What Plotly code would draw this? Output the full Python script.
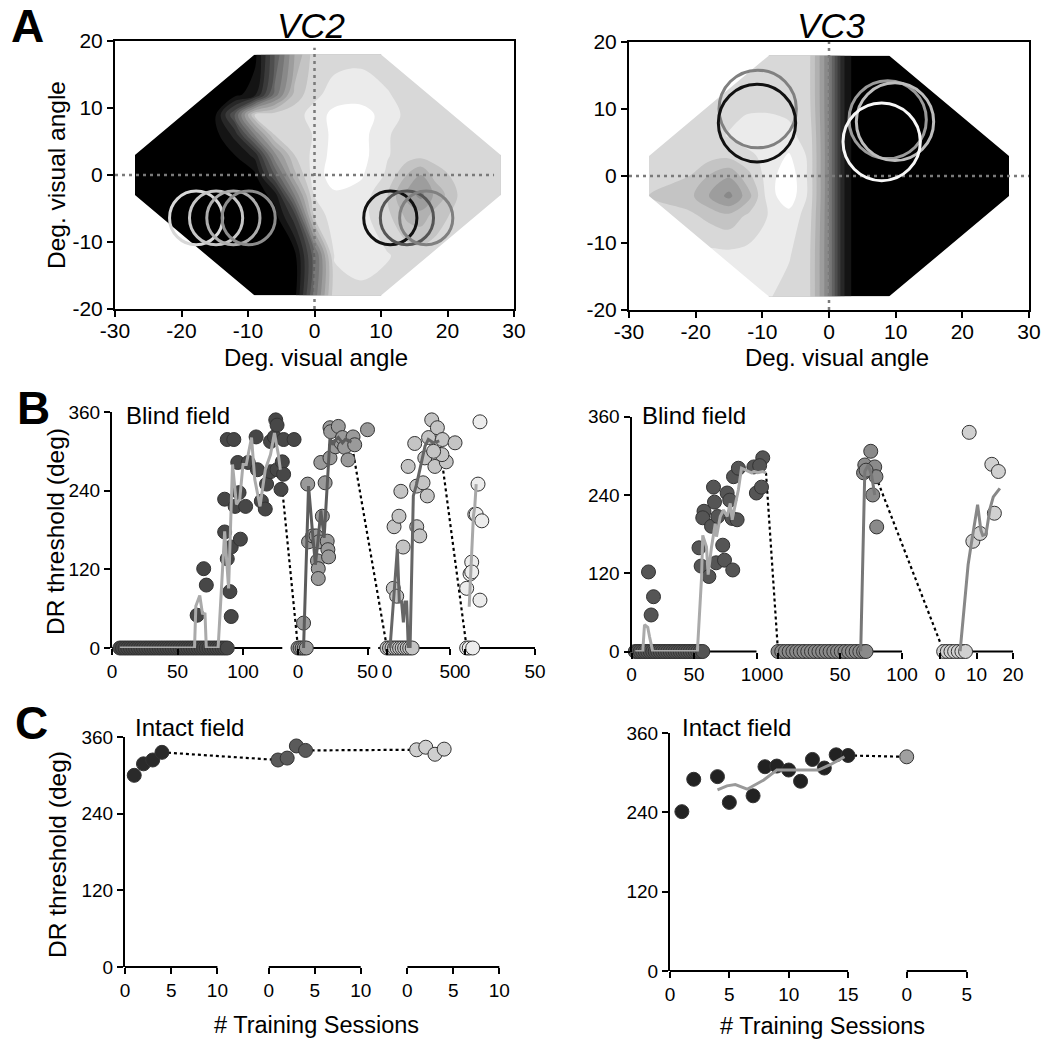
import plotly.graph_objects as go

W, H = 1050, 1049
FONT = "Arial, 'Liberation Sans', sans-serif"


def px(v):
    return v / W


def py(v):
    return 1 - v / H


# ---------------- A: visual field maps (0 = black / blind, 1 = white) ----------------
vc2_gx = [-27, -15, -12, -9, -6, -3, 0, 3, 7, 11, 14, 16, 18, 22, 28]
vc2_gy = [-18, -12, -6, -3, 0, 3, 6, 9, 12, 18]
vc2_z = [
    [0, 0, 0, 0, 0, 0.02, 0.45, 0.85, 0.86, 0.85, 0.84, 0.84, 0.84, 0.83, 0.8],
    [0, 0, 0, 0, 0, 0.02, 0.4, 0.88, 0.9, 0.88, 0.85, 0.84, 0.84, 0.83, 0.8],
    [0, 0, 0, 0, 0.02, 0.25, 0.82, 0.92, 0.9, 0.82, 0.7, 0.68, 0.75, 0.84, 0.8],
    [0, 0, 0, 0, 0.08, 0.5, 0.88, 0.94, 0.92, 0.8, 0.62, 0.55, 0.66, 0.82, 0.8],
    [0, 0, 0, 0.03, 0.35, 0.7, 0.92, 0.98, 0.96, 0.86, 0.72, 0.65, 0.75, 0.84, 0.82],
    [0, 0, 0.05, 0.15, 0.55, 0.8, 0.9, 0.98, 0.98, 0.88, 0.84, 0.83, 0.84, 0.84, 0.8],
    [0, 0.02, 0.15, 0.5, 0.8, 0.84, 0.88, 0.98, 0.98, 0.88, 0.85, 0.84, 0.84, 0.83, 0.8],
    [0, 0.03, 0.35, 0.8, 0.84, 0.85, 0.9, 0.98, 0.98, 0.92, 0.85, 0.84, 0.84, 0.83, 0.8],
    [0, 0, 0.02, 0.1, 0.45, 0.75, 0.86, 0.9, 0.92, 0.88, 0.85, 0.84, 0.84, 0.83, 0.8],
    [0, 0, 0, 0.02, 0.35, 0.65, 0.84, 0.85, 0.85, 0.84, 0.84, 0.84, 0.84, 0.83, 0.8],
]
vc2_edge_x = [-9, 10, 28, 28, 10, -9, -27, -27]
vc2_edge_y = [18, 18, 3, -3, -18, -18, -3, 3]
vc2_cx = [-17.8, -14.8, -12.2, -9.9, 11.4, 13.9, 16.8]
vc2_cy = [-6.4, -6.4, -6.4, -6.4, -6.4, -6.4, -6.4]
vc2_r = 4.0

vc3_gx = [-27, -21, -18, -15, -12, -9, -6, -3, 0, 2, 4, 10, 27]
vc3_gy = [-18, -12, -6, -3, 0, 3, 6, 9, 12, 18]
vc3_z = [
    [0.8, 0.85, 0.88, 0.9, 0.9, 0.88, 0.85, 0.82, 0.5, 0.15, 0, 0, 0],
    [0.8, 0.88, 0.9, 0.9, 0.9, 0.9, 0.88, 0.82, 0.5, 0.15, 0, 0, 0],
    [0.8, 0.82, 0.78, 0.75, 0.82, 0.88, 0.92, 0.84, 0.5, 0.15, 0, 0, 0],
    [0.8, 0.75, 0.65, 0.55, 0.7, 0.92, 1.0, 0.86, 0.5, 0.15, 0, 0, 0],
    [0.8, 0.8, 0.72, 0.66, 0.78, 0.92, 1.0, 0.86, 0.5, 0.15, 0, 0, 0],
    [0.8, 0.85, 0.83, 0.82, 0.86, 0.9, 0.96, 0.86, 0.5, 0.15, 0, 0, 0],
    [0.8, 0.85, 0.85, 0.88, 0.91, 0.91, 0.89, 0.85, 0.5, 0.15, 0, 0, 0],
    [0.8, 0.84, 0.85, 0.86, 0.88, 0.88, 0.87, 0.83, 0.5, 0.15, 0, 0, 0],
    [0.8, 0.82, 0.83, 0.83, 0.83, 0.84, 0.85, 0.82, 0.5, 0.15, 0, 0, 0],
    [0.8, 0.8, 0.8, 0.8, 0.8, 0.8, 0.82, 0.82, 0.5, 0.15, 0, 0, 0],
]
vc3_edge_x = [-9, 9, 27, 27, 9, -9, -27, -27]
vc3_edge_y = [18, 18, 3, -3, -18, -18, -3, 3]
vc3_cx = [-10.7, -10.8, 8.8, 9.9, 7.9]
vc3_cy = [10.0, 7.9, 8.4, 8.1, 5.1]
vc3_r = 5.8

vc2_ccol = ['#d8d8d8', '#c6c6c6', '#adadad', '#8c8c8c', '#111111', '#555555', '#808080']
vc3_ccol = ['#808080', '#111111', '#9a9a9a', '#bdbdbd', '#f7f7f7']

map_ticks_x = [-30, -20, -10, 0, 10, 20, 30]
map_ticks_y = [-20, -10, 0, 10, 20]

# ---------------- B: blind field thresholds ----------------
bl1_x = [6, 8, 10, 12, 14, 16, 18, 20, 22, 24, 26, 28, 30, 32, 34, 36, 38, 40, 42, 44, 46,
         48, 50, 52, 54, 56, 58, 60, 62, 64, 66, 68, 70, 72, 74, 76, 78, 80, 82, 84, 86, 88,
         65, 70, 72, 86, 86, 88, 88, 90, 91, 91, 93, 94, 96, 97, 98, 102, 104, 110, 111, 114,
         117, 118, 121, 121, 124, 125, 126, 126, 129, 130, 131, 131, 139]
bl1_y = [0, 0, 0, 0, 0, 0, 0, 0, 0, 0, 0, 0, 0, 0, 0, 0, 0, 0, 0, 0, 0,
         0, 0, 0, 0, 0, 0, 0, 0, 0, 0, 0, 0, 0, 0, 0, 0, 0, 0, 0, 0, 0,
         50, 121, 96, 177, 227, 136, 318, 86, 48, 154, 318, 216, 283, 237, 166, 216, 283, 322, 272, 224,
         212, 250, 315, 269, 322, 348, 340, 272, 242, 284, 318, 265, 318]
bl1_lx = [6, 63, 64, 67, 69, 71, 72, 81, 86, 89, 92, 95, 97.5, 100, 102.5, 106.5, 109, 113, 117,
          121, 124, 127, 128.5]
bl1_ly = [0, 0, 64, 80, 53, 52, 0, 0, 178, 91, 280, 219, 227, 280, 280, 321, 257, 216, 272,
          295, 328, 295, 272]

bl2_x = [0, 1.5, 3, 4.5, 6, 4, 7, 7.6, 10.5, 13, 14, 14.6, 14.6, 15, 16.4, 17.5, 19.5, 21, 21.5,
         22, 23, 23.5, 23, 27, 29, 31, 32, 33.5, 36, 39.6, 40.8, 50]
bl2_y = [0, 0, 0, 0, 0, 38, 250, 162, 171, 171, 133, 121, 106, 162, 283, 201, 252, 163, 150,
         139, 336, 330, 290, 307, 338, 313, 321, 306, 287, 322, 310, 333]
bl2_lx = [4, 7.6, 10.5, 12.5, 14.6, 16.4, 18.8, 22, 23, 25, 27, 29, 32, 34, 36, 38.4]
bl2_ly = [0, 247, 175, 127, 168, 210, 168, 283, 320, 310, 317, 321, 313, 318, 317, 314]

bl3_x = [0, 2, 4, 6, 8, 10, 12, 14, 16, 18, 20, 5, 7.7, 12.8, 5.6, 9.5, 11, 16.8, 22, 23.6,
         26, 23.6, 28.6, 32, 30, 33, 35.5, 40, 44, 54, 38, 47, 43.6, 37]
bl3_y = [0, 0, 0, 0, 0, 0, 0, 0, 0, 0, 0, 91, 79, 154, 185, 201, 239, 277, 312, 185,
         171, 247, 252, 232, 290, 321, 348, 336, 318, 313, 277, 284, 295, 300]
bl3_lx = [2.4, 8.2, 9.8, 11.6, 13, 14.3, 15.6, 16.9, 18.3, 20.9, 23.5, 26.2, 30.2, 32.8, 36.8, 41.5]
bl3_ly = [0, 151, 70, 70, 39, 70, 70, 0, 0, 232, 250, 273, 308, 318, 313, 316]

bl4_x = [1.2, 3, 5.5, 10.7, 9.3, 7, 8, 12, 4.8, 3.6, 4.8, 1.2, 10.7]
bl4_y = [0, 0, 0, 345, 250, 204, 204, 194, 131, 113, 116, 91, 73]
bl4_lx = [3, 3.8, 4.8, 6, 7, 8]
bl4_ly = [63, 100, 151, 201, 216, 250]

br1_x = [3, 5, 7, 9, 11, 13, 15, 17, 19, 21, 23, 25, 27, 29, 31, 33, 35, 37, 39, 41, 43, 45,
         47, 49, 51, 53, 55, 57,
         13.6, 17.6, 15.7, 54, 55.7, 61.9, 67.7, 74.4, 73, 81, 58, 57, 64, 65.6, 66.4, 69, 76.5,
         78.6, 80.5, 84.5, 81.6, 85.5, 97.9, 99.9, 104, 105, 102.5]
br1_y = [0, 0, 0, 0, 0, 0, 0, 0, 0, 0, 0, 0, 0, 0, 0, 0, 0, 0, 0, 0, 0, 0,
         0, 0, 0, 0, 0, 0,
         122, 84, 56, 159, 131, 115, 136, 140, 163, 125, 215, 205, 192, 252, 229, 207, 243,
         232, 204, 202, 268, 281, 283, 243, 252, 297, 285]
br1_lx = [3, 9, 10.4, 13, 14.4, 17, 52.7, 56, 57, 60, 61.3, 64, 67, 68, 71, 73.6, 76.5, 79,
          80.5, 83, 85.5, 88, 92, 96, 98, 101, 105, 107.6]
br1_ly = [0, 0, 41, 37, 23, 0, 0, 112, 178, 160, 118, 160, 196, 176, 207, 217, 207, 227,
          202, 227, 248, 281, 278, 274, 276, 274, 276, 274]

br2_x = [0, 3, 6, 9, 12, 15, 18, 21, 24, 27, 30, 33, 36, 39, 42, 45, 48, 51, 54, 57, 60, 63,
         66, 69, 71, 74.8, 70, 69, 78, 79, 76.4, 79.6, 71]
br2_y = [0, 0, 0, 0, 0, 0, 0, 0, 0, 0, 0, 0, 0, 0, 0, 0, 0, 0, 0, 0, 0, 0,
         0, 0, 0, 307, 286, 274, 283, 268, 240, 191, 278]
br2_lx = [66.7, 70, 72.8, 75.5, 78]
br2_ly = [0, 276, 286, 270, 240]

br3_x = [1, 2, 3, 4, 5, 6, 7, 8, 9, 11, 14.2, 16, 14.9]
br3_y = [0, 0, 0, 0, 0, 0, 0, 336, 169, 181, 287, 276, 212]
br3_lx = [5.5, 6.8, 7.7, 8.6, 10.3, 11.2, 11.7, 12.6, 13.7, 14.6, 16.4]
br3_ly = [0, 84, 133, 166, 225, 186, 178, 180, 219, 237, 250]

# ---------------- C: intact field thresholds ----------------
cl1_x = [1, 2, 3, 4]
cl1_y = [300, 318, 324, 336]
cl2_x = [1, 2, 3, 4]
cl2_y = [324, 327, 346, 339]
cl3_x = [1, 2, 3, 4]
cl3_y = [340, 344, 333, 341]

cr1_x = [1, 2, 4, 5, 7, 8, 9, 10, 11, 12, 13, 14, 15]
cr1_y = [241, 290, 294, 255, 265, 309, 310, 304, 287, 320, 307, 327, 326]
cr1_lx = [4, 4.8, 5.5, 6.5, 7.9, 9, 10.1, 11.5, 12.5, 13.5, 14.7]
cr1_ly = [274, 280, 282, 275, 289, 304, 304, 304, 304, 312, 324]
cr2_x = [0]
cr2_y = [324]

# dotted links between consecutive locations: (from seg, x, y, to seg, x, y)
bl_links = [(0, 128.5, 272, 1, 0, 0), (1, 38.4, 314, 2, 0, 0), (2, 41.5, 316, 3, 1.2, 0)]
br_links = [(0, 107.6, 274, 1, 0, 0), (1, 79, 268, 2, 1, 0)]
cl_links = [(0, 4, 336, 1, 1, 324), (1, 4, 339, 2, 1, 340)]
cr_links = [(0, 15, 326, 1, 0, 324)]

# segment layout: o = offset of data zero (px from axis start), s = px per unit
B_L = [
    dict(o=0, s=1.31, a=0, b=130, ticks=[0, 50, 100], pts=(bl1_x, bl1_y), ln=(bl1_lx, bl1_ly),
         fill='#474747', lc='#aaaaaa'),
    dict(o=186, s=1.39, a=-4, b=52, ticks=[0, 50], pts=(bl2_x, bl2_y), ln=(bl2_lx, bl2_ly),
         fill='#9a9a9a', lc='#5c5c5c'),
    dict(o=275, s=1.26, a=-7, b=50, ticks=[0, 50], pts=(bl3_x, bl3_y), ln=(bl3_lx, bl3_ly),
         fill='#c4c4c4', lc='#666666'),
    dict(o=353, s=1.40, a=-2, b=50, ticks=[0, 50], pts=(bl4_x, bl4_y), ln=(bl4_lx, bl4_ly),
         fill='#ececec', lc='#a8a8a8'),
]
B_R = [
    dict(o=0, s=1.25, a=0, b=100, ticks=[0, 50, 100], pts=(br1_x, br1_y), ln=(br1_lx, br1_ly),
         fill='#555555', lc='#aaaaaa'),
    dict(o=146.5, s=1.24, a=-4, b=100, ticks=[0, 50, 100], pts=(br2_x, br2_y), ln=(br2_lx, br2_ly),
         fill='#8a8a8a', lc='#777777'),
    dict(o=308.5, s=3.65, a=-0.5, b=20, ticks=[0, 10, 20], pts=(br3_x, br3_y), ln=(br3_lx, br3_ly),
         fill='#d0d0d0', lc='#888888'),
]
C_L = [
    dict(o=0, s=9.24, a=0, b=10, ticks=[0, 5, 10], pts=(cl1_x, cl1_y), ln=None, fill='#2a2a2a'),
    dict(o=143.8, s=9.19, a=0, b=10, ticks=[0, 5, 10], pts=(cl2_x, cl2_y), ln=None, fill='#5a5a5a'),
    dict(o=282.4, s=9.19, a=0, b=10, ticks=[0, 5, 10], pts=(cl3_x, cl3_y), ln=None, fill='#cfcfcf'),
]
C_R = [
    dict(o=0, s=11.87, a=0, b=15, ticks=[0, 5, 10, 15], pts=(cr1_x, cr1_y), ln=(cr1_lx, cr1_ly),
         fill='#222222', lc='#999999'),
    dict(o=236.7, s=12.0, a=0, b=5, ticks=[0, 5], pts=(cr2_x, cr2_y), ln=None, fill='#a0a0a0'),
]

fig = go.Figure()
shapes = []
annos = []


def add_map(xa, ya, gx, gy, gz, ex, ey, cx, cy, r, ccol, vline, hline):
    fig.add_trace(go.Contour(
        x=gx, y=gy, z=gz, xaxis=xa, yaxis=ya, zmin=0, zmax=1, autocontour=False,
        contours=dict(start=0.05, end=0.95, size=0.075, coloring='fill', showlines=False),
        colorscale=[[0, '#000000'], [1, '#ffffff']],
        line=dict(width=0, smoothing=1.0), showscale=False, hoverinfo='skip'))
    rect = 'M-29.6,-19.6 L29.6,-19.6 L29.6,19.6 L-29.6,19.6 Z '
    poly = 'M' + ' L'.join(f'{a},{b}' for a, b in zip(ex, ey)) + ' Z'
    shapes.append(dict(type='path', path=rect + poly, xref=xa, yref=ya, fillcolor='white',
                       line=dict(width=0), fillrule='evenodd', layer='above'))
    dot = dict(color='#7a7a7a', width=2.5, dash='3px,4px')
    shapes.append(dict(type='line', xref=xa, yref=ya, x0=0, x1=0, y0=vline[0], y1=vline[1],
                       line=dot, layer='above'))
    shapes.append(dict(type='line', xref=xa, yref=ya, x0=hline[0], x1=hline[1], y0=0, y1=0,
                       line=dot, layer='above'))
    for a, b, c in zip(cx, cy, ccol):
        shapes.append(dict(type='circle', xref=xa, yref=ya, x0=a - r, x1=a + r, y0=b - r, y1=b + r,
                           line=dict(color=c, width=3), fillcolor='rgba(0,0,0,0)', layer='above'))


add_map('x', 'y', vc2_gx, vc2_gy, vc2_z, vc2_edge_x, vc2_edge_y, vc2_cx, vc2_cy, vc2_r,
        vc2_ccol, (-20, 19), (-30, 27))
add_map('x2', 'y2', vc3_gx, vc3_gy, vc3_z, vc3_edge_x, vc3_edge_y, vc3_cx, vc3_cy, vc3_r,
        vc3_ccol, (-20, 20), (-30, 30))


def add_broken(xa, ya, segs, links, ybot, msize):
    tv, tt = [], []
    for sg in segs:
        f = lambda v, sg=sg: sg['o'] + sg['s'] * v
        shapes.append(dict(type='line', xref=xa, yref='paper', x0=f(sg['a']), x1=f(sg['b']),
                           y0=py(ybot), y1=py(ybot), line=dict(color='black', width=2), layer='below'))
        tv += [f(t) for t in sg['ticks']]
        tt += [str(t) for t in sg['ticks']]
    for l in links:
        s0, s1 = segs[l[0]], segs[l[3]]
        fig.add_trace(go.Scatter(
            x=[s0['o'] + s0['s'] * l[1], s1['o'] + s1['s'] * l[4]], y=[l[2], l[5]],
            mode='lines', line=dict(color='black', width=2.2, dash='dot'),
            xaxis=xa, yaxis=ya, hoverinfo='skip'))
    for sg in segs:
        xs, ys = sg['pts']
        fig.add_trace(go.Scatter(
            x=[sg['o'] + sg['s'] * v for v in xs], y=ys, mode='markers',
            marker=dict(size=msize, color=sg['fill'], line=dict(color='#333333', width=1)),
            cliponaxis=False, xaxis=xa, yaxis=ya, hoverinfo='skip'))
        if sg['ln']:
            lx, ly = sg['ln']
            fig.add_trace(go.Scatter(
                x=[sg['o'] + sg['s'] * v for v in lx], y=ly, mode='lines',
                line=dict(color=sg['lc'], width=3), cliponaxis=False,
                xaxis=xa, yaxis=ya, hoverinfo='skip'))
    return tv, tt


tv3, tt3 = add_broken('x3', 'y3', B_L, bl_links, 648, 14)
tv4, tt4 = add_broken('x4', 'y4', B_R, br_links, 651.5, 14)
tv5, tt5 = add_broken('x5', 'y5', C_L, cl_links, 967, 14)
tv6, tt6 = add_broken('x6', 'y6', C_R, cr_links, 971, 14)

base = dict(showgrid=False, zeroline=False, ticks='outside', ticklen=6, tickwidth=2,
            tickcolor='black', linecolor='black', linewidth=2)
fA = dict(size=21, color='black', family=FONT)
fB = dict(size=19, color='black', family=FONT)


def mapx(d0, d1, anchor):
    return dict(base, domain=[px(d0), px(d1)], range=[-30, 30], tickvals=map_ticks_x,
                ticktext=[str(t) for t in map_ticks_x], ticklabelstandoff=-4,
                showline=True, mirror=True, anchor=anchor, tickfont=fA)


def mapy(t, b, anchor):
    return dict(base, domain=[py(b), py(t)], range=[-20, 20], tickvals=map_ticks_y,
                ticktext=[str(t) for t in map_ticks_y],
                showline=True, mirror=True, anchor=anchor, tickfont=fA)


def brx(d0, d1, tv, tt, anchor):
    return dict(base, domain=[px(d0), px(d1)], range=[0, d1 - d0], tickvals=tv, ticktext=tt,
                showline=False, tickangle=0, anchor=anchor, tickfont=fB)


def bry(t, b, anchor):
    return dict(base, domain=[py(b), py(t)], range=[0, 360], tickvals=[0, 120, 240, 360],
                showline=True, anchor=anchor, tickfont=fB)


def note(text, x, y, size, angle=0, xanchor='center'):
    annos.append(dict(text=text, x=px(x), y=py(y), xref='paper', yref='paper', showarrow=False,
                      xanchor=xanchor, yanchor='middle', textangle=angle,
                      font=dict(size=size, color='black', family=FONT)))


note('<b>A</b>', 27, 26, 46)
note('<b>B</b>', 33, 408, 46)
note('<b>C</b>', 31, 723, 46)
note('<i>VC2</i>', 311, 26, 35)
note('<i>VC3</i>', 831, 26, 35)
note('Deg. visual angle', 316, 358, 24)
note('Deg. visual angle', 837, 358, 24)
note('Deg. visual angle', 56, 175, 24.5, -90)
note('DR threshold (deg)', 55, 532, 24.5, -90)
note('DR threshold (deg)', 57, 855, 24.5, -90)
note('Blind field', 124, 415, 24, xanchor='left')
note('Blind field', 640, 415, 24, xanchor='left')
note('Intact field', 133, 727, 24, xanchor='left')
note('Intact field', 680, 727, 24, xanchor='left')
note('# Training Sessions', 316, 1025, 23.5)
note('# Training Sessions', 822, 1026, 23.5)

fig.update_layout(
    template='none', width=W, height=H, showlegend=False, hovermode=False,
    margin=dict(l=0, r=0, t=0, b=0, pad=0),
    paper_bgcolor='white', plot_bgcolor='rgba(0,0,0,0)',
    font=dict(family=FONT, color='black'),
    xaxis=mapx(115, 514, 'y'), yaxis=mapy(41, 309, 'x'),
    xaxis2=mapx(629, 1029, 'y2'), yaxis2=mapy(42, 310, 'x2'),
    xaxis3=brx(112, 545, tv3, tt3, 'y3'), yaxis3=bry(412, 648, 'x3'),
    xaxis4=brx(631.5, 1025, tv4, tt4, 'y4'), yaxis4=bry(416.7, 651.5, 'x4'),
    xaxis5=brx(125, 515, tv5, tt5, 'y5'), yaxis5=bry(737, 967, 'x5'),
    xaxis6=brx(670, 980, tv6, tt6, 'y6'), yaxis6=bry(733, 971, 'x6'),
    shapes=shapes, annotations=annos,
)

# page body margin would push the figure 8 px right/down
fig.write_html("out.html", config={'displayModeBar': False},
               post_script="document.body.style.margin='0';document.body.style.overflow='hidden';")
